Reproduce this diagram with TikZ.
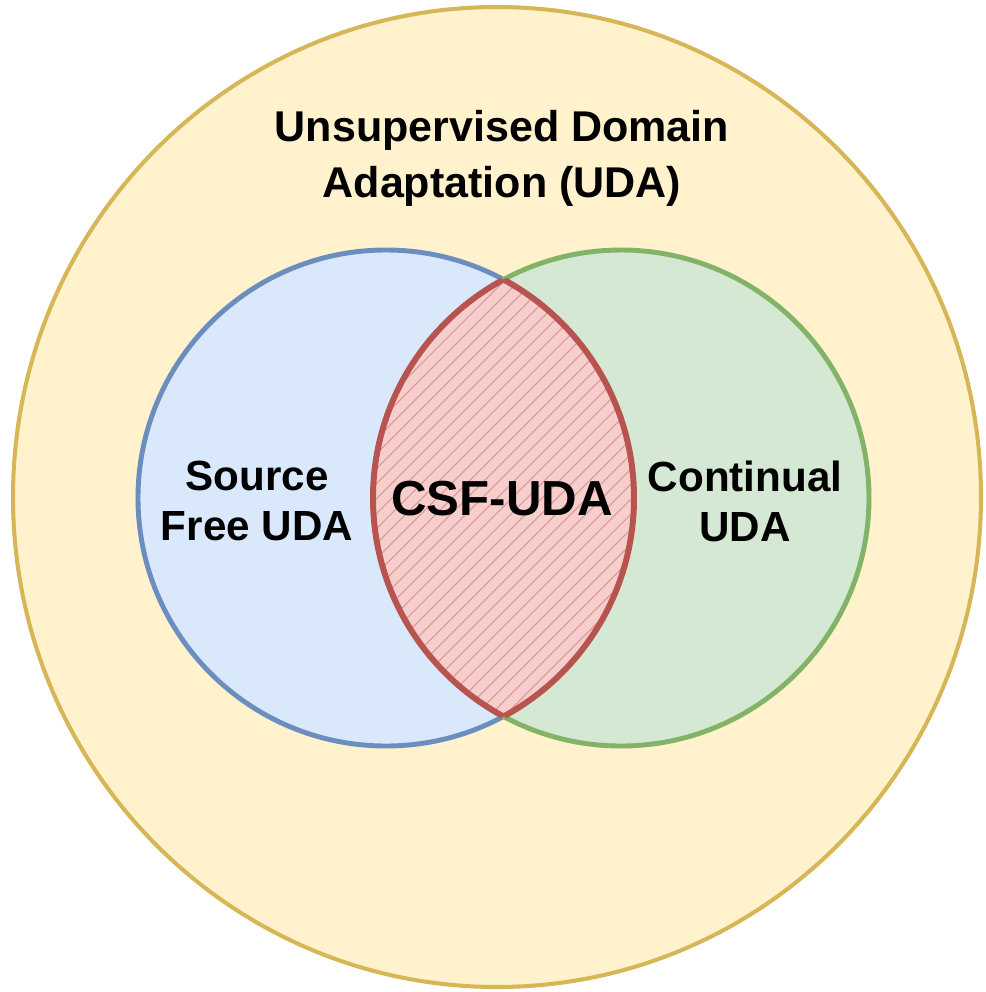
\documentclass[tikz,border=0pt]{standalone}
\usepackage{fontspec}
\setmainfont{Liberation Sans}
\usepackage{xcolor}
\definecolor{udafill}  {RGB}{255,242,204}
\definecolor{udaline}  {RGB}{214,182, 86}
\definecolor{sfefill}  {RGB}{218,232,252}
\definecolor{sfeline}  {RGB}{108,142,191}
\definecolor{contfill} {RGB}{213,232,212}
\definecolor{contline} {RGB}{130,179,102}
\definecolor{csffill}  {RGB}{248,206,204}
\definecolor{csfline}  {RGB}{184, 84, 80}

\begin{document}
\begin{tikzpicture}[
    x=0.02cm, y=-0.02cm,
    ring/.style={line width=2.8pt},
    title/.style={font=\bfseries\fontsize{24.5}{32}\selectfont, align=center},
    tag/.style={font=\bfseries\fontsize{24}{28.5}\selectfont, align=center},
    hatch/.style={draw=csfline!60, line width=0.6pt}
]
    \useasboundingbox (0,0) rectangle (986,992);
    % outer set
    \draw[ring, fill=udafill, draw=udaline, line width=2.3pt] (497,497) ellipse [x radius=484, y radius=490];
    % the two overlapping sets
    \draw[ring, fill=sfefill, draw=sfeline] (386,498) circle [radius=248];
    \draw[ring, fill=contfill, draw=contline] (621,498) circle [radius=248];
    % overlap
    \begin{scope}
        \clip (386,498) circle [radius=248];
        \fill[csffill] (621,498) circle [radius=248];
        \begin{scope}
            \clip (621,498) circle [radius=248];
            \foreach \i in {0,15,...,840}
                \draw[hatch] (\i-200,760) -- ++(520,-520);
        \end{scope}
        \draw[ring, draw=csfline, line width=3.4pt] (621,498) circle [radius=248];
    \end{scope}
    \begin{scope}
        \clip (621,498) circle [radius=248];
        \draw[ring, draw=csfline, line width=3.4pt] (386,498) circle [radius=248];
    \end{scope}
    % labels
    \node[title] (uda) at (502,158) {Unsupervised Domain\\Adaptation (UDA)};
    \node[tag] (sfuda) at (257,501) {Source\\Free UDA};
    \node[tag] (cuda) at (745,501) {Continual\\UDA};
    \node[font=\bfseries\fontsize{28}{32}\selectfont] (csf) at (502,499) {CSF-UDA};
\end{tikzpicture}
\end{document}
